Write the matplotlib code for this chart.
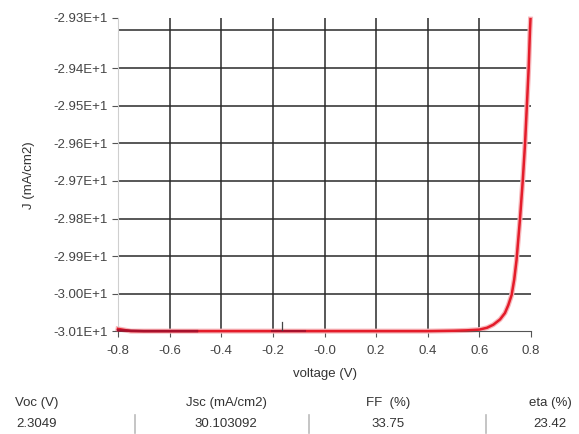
import matplotlib.pyplot as plt
from matplotlib.ticker import FixedLocator

plt.rcParams['font.family'] = ['Liberation Sans', 'DejaVu Sans']

# J-V curve (main sweep)
voltage = [-0.80, -0.75, -0.60, -0.40, -0.20, 0.00, 0.20, 0.40, 0.50, 0.55, 0.60, 0.63,
           0.654, 0.68, 0.699, 0.712, 0.725, 0.735, 0.744, 0.757, 0.768, 0.777, 0.784,
           0.791, 0.796, 0.798]
current = [-30.093, -30.099, -30.099, -30.099, -30.099, -30.099, -30.099, -30.099, -30.098,
           -30.097, -30.095, -30.090, -30.082, -30.068, -30.051, -30.030, -30.003, -29.962,
           -29.91, -29.804, -29.70, -29.60, -29.50, -29.40, -29.30, -29.27]

# overlapping segments of the other sweep (darker)
seg1_v = [-0.80, -0.70, -0.60, -0.494]
seg1_j = [-30.097, -30.099, -30.099, -30.099]
seg2_v = [-0.203, -0.15, -0.076]
seg2_j = [-30.099, -30.099, -30.099]
marker_v = -0.166

grid_levels = [-29.3, -29.4, -29.5, -29.6, -29.7, -29.8, -29.9, -30.0]
ytick_labels = ['-2.93E+1', '-2.94E+1', '-2.95E+1', '-2.96E+1', '-2.97E+1',
                '-2.98E+1', '-2.99E+1', '-3.00E+1', '-3.01E+1']
xticks = [-0.8, -0.6, -0.4, -0.2, 0.0, 0.2, 0.4, 0.6, 0.8]
xtick_labels = ['-0.8', '-0.6', '-0.4', '-0.2', '-0.0', '0.2', '0.4', '0.6', '0.8']

table_heads = ['Voc (V)', 'Jsc (mA/cm2)', 'FF  (%)', 'eta (%)']
table_vals = ['2.3049', '30.103092', '33.75', '23.42']

fig = plt.figure(figsize=(5.79, 4.34), dpi=100)
ax = fig.add_axes([0.2038, 0.2362, 0.7133, 0.7224])

ytop = -29.267
ax.set_xlim(-0.8, 0.8)
ax.set_ylim(-30.1, ytop)

for g in grid_levels:
    ax.axhline(g, color='#2a2a2a', lw=1.1, zorder=1)
for xv in xticks[1:-1]:
    ax.axvline(xv, color='#2a2a2a', lw=1.1, zorder=1)

ax.plot(voltage, current, color='#f7b8bc', lw=3.6, zorder=2, clip_on=False)
ax.plot(voltage, current, color='#e41c2a', lw=1.8, zorder=3, clip_on=False)
ax.plot(seg1_v, seg1_j, color='#a8102c', lw=1.8, zorder=4, clip_on=False)
ax.plot(seg2_v, seg2_j, color='#a8102c', lw=1.5, zorder=4, clip_on=False)
ax.plot([marker_v, marker_v], [-30.1, -30.076], color='#444444', lw=0.9, zorder=4)

# y ticks: top label sits at the axis top
yticks = [ytop] + grid_levels[1:] + [-30.1]
ax.yaxis.set_major_locator(FixedLocator(yticks))
ax.set_yticklabels(ytick_labels)
ax.set_xticks(xticks)
ax.set_xticklabels(xtick_labels)
ax.tick_params(axis='both', labelsize=9.5, labelcolor='#444444', color='#555555',
               length=4, width=0.8)
ax.tick_params(axis='x', pad=6)

for s in ['top', 'right']:
    ax.spines[s].set_visible(False)
ax.spines['left'].set_color('#cfcfcf')
ax.spines['bottom'].set_color('#555555')

ax.set_xlabel('voltage (V)', fontsize=9.5, color='#333333', labelpad=8)
ax.set_ylabel('J (mA/cm2)', fontsize=9.5, color='#333333')
ax.yaxis.set_label_coords(-0.2, 0.5)

# result table under the chart
col_x = [37, 226, 388, 550]
for cx, h, v in zip(col_x, table_heads, table_vals):
    fig.text(cx / 579, 1 - 403 / 434, h, ha='center', va='center', fontsize=9.5, color='#333333')
    fig.text(cx / 579, 1 - 424 / 434, v, ha='center', va='center', fontsize=9.5, color='#333333')
for sx in [135, 309, 486]:
    fig.add_artist(plt.Line2D([sx / 579, sx / 579], [1 - 433 / 434, 1 - 415 / 434],
                              color='#bbbbbb', lw=1.2))

fig.savefig('out.png', dpi=100)
